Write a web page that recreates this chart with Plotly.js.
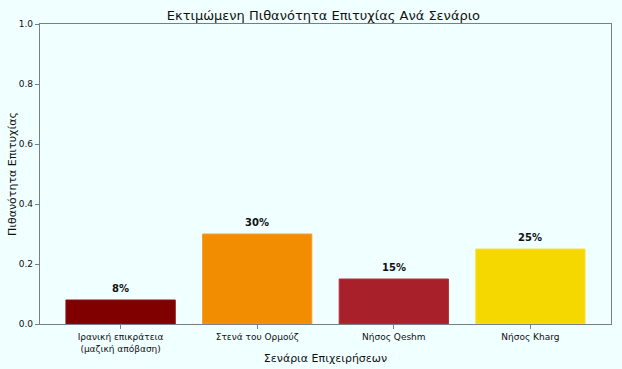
<!DOCTYPE html>
<html>
<head>
<meta charset="utf-8">
<script src="https://cdn.plot.ly/plotly-3.0.1.min.js"></script>
<style>html,body{margin:0;padding:0;background:#F0FFFF;}</style>
</head>
<body>
<div id="chart" style="width:622px;height:369px;"></div>
<script>
const categories = ["Ιρανική επικράτεια<br>(μαζική απόβαση)", "Στενά του Ορμούζ", "Νήσος Qeshm", "Νήσος Kharg"];
const probabilities = [0.08, 0.30, 0.15, 0.25];
const barColors = ["#800000", "#F28C00", "#A8202A", "#F5D800"];
const edgeColors = ["#8A1010", "#F5A030", "#B83038", "#F7E040"];
const labels = ["8%", "30%", "15%", "25%"];
const yTicks = [0, 0.2, 0.4, 0.6, 0.8, 1.0];

const idx = categories.map((_, i) => i);
const trace = {
  type: "bar",
  x: idx,
  y: probabilities,
  width: 0.8,
  marker: {color: barColors, line: {color: edgeColors, width: 1}},
  hoverinfo: "skip"
};
const font = {family: "DejaVu Sans, sans-serif", color: "#111"};
const annotations = idx.map(i => ({
  x: i, y: probabilities[i] + 0.015, xref: "x", yref: "y",
  text: "<b>" + labels[i] + "</b>", showarrow: false, yanchor: "bottom",
  font: {family: "DejaVu Sans, sans-serif", size: 10, color: "#111"}
}));
annotations.push({
  xref: "paper", yref: "paper", x: -0.049, y: 0.5, xanchor: "center", yanchor: "middle",
  text: "Πιθανότητα Επιτυχίας", textangle: -90, showarrow: false,
  font: {family: "DejaVu Sans, sans-serif", size: 11, color: "#111"}
});
const layout = {
  width: 622, height: 369,
  margin: {l: 40, r: 11, t: 24, b: 45},
  paper_bgcolor: "#F0FFFF",
  plot_bgcolor: "#F0FFFF",
  font: font,
  showlegend: false,
  bargap: 0,
  title: {text: "Εκτιμώμενη Πιθανότητα Επιτυχίας Ανά Σενάριο", font: {family: "DejaVu Sans, sans-serif", size: 13, color: "#111"}, x: 0.52, xanchor: "center", y: 0.957, yanchor: "middle"},
  xaxis: {
    range: [-0.59, 3.59],
    tickvals: idx, ticktext: categories,
    ticks: "outside", ticklen: 4, tickcolor: "#777f88",
    showline: true, linecolor: "#777f88", linewidth: 1.2, mirror: true,
    showgrid: false, zeroline: false,
    tickfont: {family: "DejaVu Sans, sans-serif", size: 9, color: "#111"},
    title: {text: "Σενάρια Επιχειρήσεων", font: {family: "DejaVu Sans, sans-serif", size: 11, color: "#111"}, standoff: 1}
  },
  yaxis: {
    range: [0, 1.0],
    tickvals: yTicks, tickformat: ".1f",
    ticks: "outside", ticklen: 4, tickcolor: "#777f88",
    showline: true, linecolor: "#777f88", linewidth: 1.2, mirror: true,
    showgrid: false, zeroline: false,
    tickfont: {family: "DejaVu Sans, sans-serif", size: 9, color: "#111"}
  },
  annotations: annotations
};
Plotly.newPlot("chart", [trace], layout, {displayModeBar: false, staticPlot: true});
</script>
</body>
</html>
